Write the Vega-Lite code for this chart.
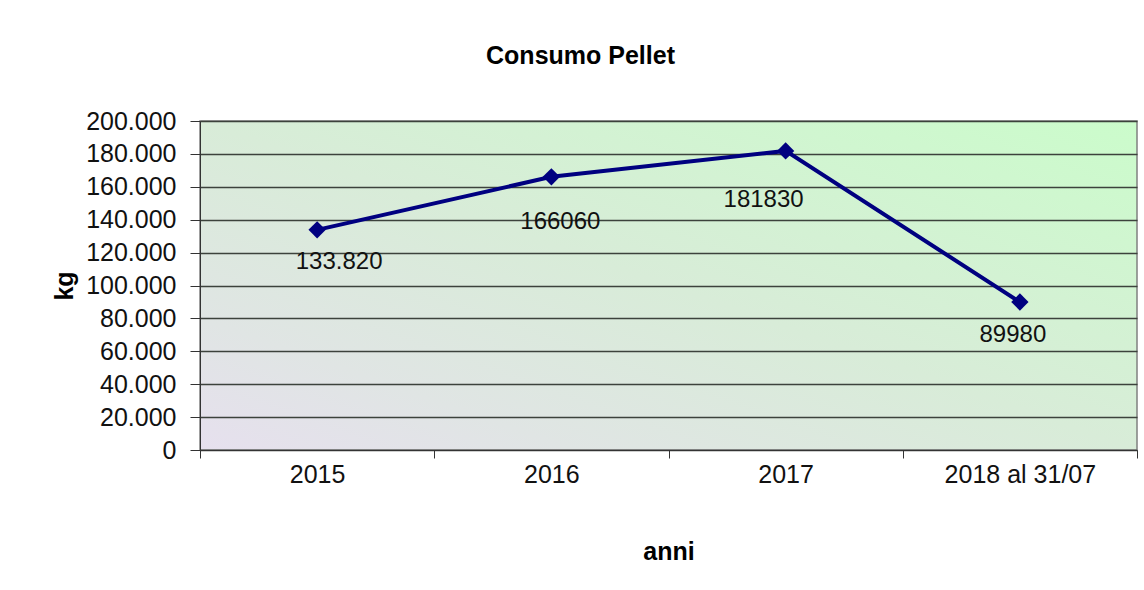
{
  "$schema": "https://vega.github.io/schema/vega-lite/v6.json",
  "autosize": "none",
  "width": 937,
  "height": 329,
  "padding": {"left": 200, "top": 121, "right": 7, "bottom": 140},
  "background": "white",
  "title": {
    "text": "Consumo Pellet",
    "font": "Liberation Sans",
    "fontSize": 25,
    "fontWeight": "bold",
    "color": "#000000",
    "anchor": "middle",
    "frame": "group",
    "dx": -88,
    "offset": 40
  },
  "data": {
    "values": [
      {"anno": "2015", "kg": 133820, "etichetta": "133.820"},
      {"anno": "2016", "kg": 166060, "etichetta": "166060"},
      {"anno": "2017", "kg": 181830, "etichetta": "181830"},
      {"anno": "2018 al 31/07", "kg": 89980, "etichetta": "89980"}
    ]
  },
  "encoding": {
    "x": {
      "field": "anno",
      "type": "ordinal",
      "sort": null,
      "scale": {"paddingInner": 0, "paddingOuter": 0},
      "axis": {
        "title": "anni",
        "labelAngle": 0,
        "tickBand": "extent",
        "tickSize": 8,
        "tickColor": "#333333",
        "domainColor": "#333333",
        "labelPadding": 4,
        "titlePadding": 52,
        "grid": false
      }
    },
    "y": {
      "field": "kg",
      "type": "quantitative",
      "scale": {"domain": [0, 200000], "nice": false},
      "axis": {
        "title": "kg",
        "values": [0, 20000, 40000, 60000, 80000, 100000, 120000, 140000, 160000, 180000, 200000],
        "format": ",d",
        "tickSize": 10,
        "tickColor": "#333333",
        "domainColor": "#333333",
        "labelPadding": 14,
        "titlePadding": 8,
        "grid": true,
        "gridColor": "#3c423c",
        "gridWidth": 1.3
      }
    }
  },
  "layer": [
    {
      "mark": {"type": "line", "color": "#000080", "strokeWidth": 4}
    },
    {
      "mark": {"type": "point", "shape": "diamond", "filled": true, "size": 300, "color": "#000080", "opacity": 1}
    },
    {
      "transform": [{"filter": "datum.anno == '2015'"}],
      "mark": {"type": "text", "font": "Liberation Sans", "fontSize": 24, "color": "#111111", "dx": 22, "dy": 32},
      "encoding": {"text": {"field": "etichetta"}}
    },
    {
      "transform": [{"filter": "datum.anno == '2016'"}],
      "mark": {"type": "text", "font": "Liberation Sans", "fontSize": 24, "color": "#111111", "dx": 9, "dy": 45},
      "encoding": {"text": {"field": "etichetta"}}
    },
    {
      "transform": [{"filter": "datum.anno == '2017'"}],
      "mark": {"type": "text", "font": "Liberation Sans", "fontSize": 24, "color": "#111111", "dx": -22, "dy": 49},
      "encoding": {"text": {"field": "etichetta"}}
    },
    {
      "transform": [{"filter": "datum.anno == '2018 al 31/07'"}],
      "mark": {"type": "text", "font": "Liberation Sans", "fontSize": 24, "color": "#111111", "dx": -7, "dy": 33},
      "encoding": {"text": {"field": "etichetta"}}
    }
  ],
  "config": {
    "locale": {
      "number": {"decimal": ",", "thousands": ".", "grouping": [3], "currency": ["€", ""]}
    },
    "view": {
      "stroke": "#808080",
      "strokeWidth": 1.5,
      "fill": {
        "gradient": "linear",
        "x1": 0, "y1": 1, "x2": 1, "y2": 0,
        "stops": [
          {"offset": 0, "color": "#e6e0ee"},
          {"offset": 0.2, "color": "#e0e5e4"},
          {"offset": 0.5, "color": "#d8ecd8"},
          {"offset": 1, "color": "#cbfccb"}
        ]
      }
    },
    "axis": {
      "labelFont": "Liberation Sans",
      "labelFontSize": 25,
      "labelColor": "#111111",
      "titleFont": "Liberation Sans",
      "titleFontSize": 25,
      "titleFontWeight": "bold",
      "titleColor": "#000000"
    }
  }
}
